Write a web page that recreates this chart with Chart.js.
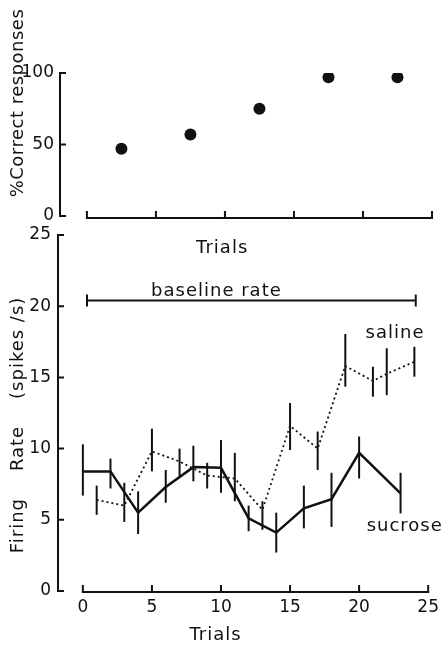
<!DOCTYPE html>
<html>
<head>
<meta charset="utf-8">
<script src="https://cdn.jsdelivr.net/npm/chart.js@4.4.1/dist/chart.umd.min.js"></script>
<style>
  html, body { margin: 0; padding: 0; background: #fff; overflow: hidden; }
  #wrap { position: relative; width: 445px; height: 646px; }
  #wrap canvas { position: absolute; left: 0; top: 0; }
</style>
</head>
<body>
<div id="wrap">
  <canvas id="top-chart" width="445" height="646"></canvas>
  <canvas id="bottom-chart" width="445" height="646"></canvas>
</div>
<script>
// --- top panel: % correct per block of trials
const blockTrials = [0.5, 1.5, 2.5, 3.5, 4.5];
const correctPct = [47, 57, 75, 97, 97];
const topXTicks = [0, 1, 2, 3, 4, 5];
const topYTicks = [0, 50, 100];

// --- bottom panel: firing rate (mean with error bars)
const sucroseTrials = [0, 2, 4, 6, 8, 10, 12, 14, 16, 18, 20, 23];
const sucroseRate = [8.4, 8.4, 5.5, 7.3, 8.7, 8.65, 5.1, 4.1, 5.8, 6.45, 9.7, 6.85];
const sucroseHigh = [10.3, 9.3, 7.0, 8.5, 10.2, 10.6, 6.0, 5.5, 7.4, 8.3, 10.85, 8.3];
const sucroseLow = [6.7, 7.2, 4.0, 6.2, 7.7, 6.9, 4.2, 2.7, 4.4, 4.5, 7.9, 5.45];

const salineTrials = [1, 3, 5, 7, 9, 11, 13, 15, 17, 19, 21, 22, 24];
const salineRate = [6.4, 6.0, 9.8, 9.1, 8.1, 7.9, 5.7, 11.6, 10.0, 15.8, 14.75, 15.25, 16.1];
const salineHigh = [7.4, 7.6, 11.4, 10.0, 9.0, 9.7, 6.3, 13.2, 11.2, 18.05, 15.75, 17.05, 17.15];
const salineLow = [5.35, 4.85, 8.4, 8.0, 7.2, 6.3, 4.3, 9.9, 8.5, 14.35, 13.65, 13.75, 15.05];

const baselineTrials = [0.3, 24.1];
const baselineRate = [20.4, 20.4];
const bottomXTicks = [0, 5, 10, 15, 20, 25];
const bottomYTicks = [0, 5, 10, 15, 20, 25];

const INK = '#111';
const FONT = 'DejaVu Sans';

const pts = (xs, ys) => xs.map((x, i) => ({ x: x, y: ys[i] }));

// Axes are drawn by hand: y axis on the chart area's left edge,
// x axis starting at trial 0, ticks pointing inwards.
const handAxes = {
    id: 'handAxes',
    afterDraw(chart, args, o) {
        const { ctx } = chart;
        const x = chart.scales.x, y = chart.scales.y;
        const left = chart.chartArea.left;
        ctx.save();
        ctx.strokeStyle = INK;
        ctx.lineWidth = 2;
        ctx.lineCap = 'square';
        ctx.beginPath();
        ctx.moveTo(left, y.getPixelForValue(o.yTicks[0]));
        ctx.lineTo(left, y.getPixelForValue(o.yTicks[o.yTicks.length - 1]));
        o.yTicks.forEach(v => {
            const py = y.getPixelForValue(v);
            ctx.moveTo(left, py);
            ctx.lineTo(left + 5, py);
        });
        const ay = y.getPixelForValue(o.yTicks[0]) + o.drop;
        ctx.moveTo(x.getPixelForValue(o.xTicks[0]), ay);
        ctx.lineTo(x.getPixelForValue(o.xTicks[o.xTicks.length - 1]), ay);
        o.xTicks.forEach(v => {
            const px = x.getPixelForValue(v);
            ctx.moveTo(px, ay);
            ctx.lineTo(px, ay - 6);
        });
        ctx.stroke();
        ctx.restore();
    }
};

const errorBars = {
    id: 'errorBars',
    afterDatasetsDraw(chart) {
        const { ctx } = chart;
        const x = chart.scales.x, y = chart.scales.y;
        ctx.save();
        ctx.strokeStyle = INK;
        ctx.lineWidth = 2;
        chart.data.datasets.forEach(ds => {
            if (!ds.errLow) return;
            ds.data.forEach((p, i) => {
                const px = x.getPixelForValue(p.x);
                ctx.beginPath();
                ctx.moveTo(px, y.getPixelForValue(ds.errLow[i]));
                ctx.lineTo(px, y.getPixelForValue(ds.errHigh[i]));
                ctx.stroke();
            });
        });
        ctx.restore();
    }
};

// free text placed in data space
const textLabels = {
    id: 'textLabels',
    afterDraw(chart, args, o) {
        const { ctx } = chart;
        const x = chart.scales.x, y = chart.scales.y;
        o.items.forEach(it => {
            ctx.save();
            ctx.fillStyle = INK;
            ctx.font = `${it.size || 18}px "${FONT}"`;
            ctx.letterSpacing = (it.spacing || 0) + 'px';
            ctx.textAlign = 'center';
            ctx.textBaseline = 'middle';
            ctx.translate(x.getPixelForValue(it.x), y.getPixelForValue(it.y));
            if (it.rot) ctx.rotate(-Math.PI / 2);
            ctx.fillText(it.text, 0, 0);
            ctx.restore();
        });
    }
};

const tickFont = { family: FONT, size: 17 };
const noGrid = { display: false, drawTicks: false };

new Chart(document.getElementById('top-chart'), {
    type: 'scatter',
    data: {
        datasets: [{
            data: pts(blockTrials, correctPct),
            pointRadius: 6,
            pointHoverRadius: 6,
            backgroundColor: INK,
            borderWidth: 0
        }]
    },
    options: {
        responsive: false,
        animation: false,
        events: [],
        layout: { padding: { top: 73, right: 13, bottom: 400, left: 0 } },
        scales: {
            x: {
                type: 'linear', min: -0.39, max: 5,
                grid: noGrid, border: { display: false },
                ticks: { display: false },
                afterFit: s => { s.height = 30; }
            },
            y: {
                min: 0, max: 100,
                grid: noGrid, border: { display: false },
                afterBuildTicks: s => { s.ticks = topYTicks.map(v => ({ value: v })); },
                ticks: { color: INK, font: tickFont, padding: 6 },
                afterFit: s => { s.width = 60; }
            }
        },
        plugins: {
            legend: { display: false },
            tooltip: { enabled: false },
            handAxes: { xTicks: topXTicks, yTicks: topYTicks, drop: 2 },
            textLabels: {
                items: [
                    { text: 'Trials', x: 1.96, y: -22.4, spacing: 1 },
                    { text: '%Correct responses', x: -1.0, y: 79, rot: true, spacing: 0.5 }
                ]
            }
        }
    },
    plugins: [handAxes, textLabels]
});

new Chart(document.getElementById('bottom-chart'), {
    type: 'line',
    data: {
        datasets: [
            {
                label: 'sucrose',
                data: pts(sucroseTrials, sucroseRate),
                errLow: sucroseLow, errHigh: sucroseHigh,
                borderColor: INK, borderWidth: 2.5,
                pointRadius: 0, tension: 0
            },
            {
                label: 'saline',
                data: pts(salineTrials, salineRate),
                errLow: salineLow, errHigh: salineHigh,
                borderColor: INK, borderWidth: 1.8, borderDash: [2, 3],
                pointRadius: 0, tension: 0
            },
            {
                label: 'baseline rate',
                data: pts(baselineTrials, baselineRate),
                borderColor: INK, borderWidth: 2,
                pointStyle: 'line', rotation: 90, pointRadius: 6,
                pointBorderWidth: 2, pointBorderColor: INK
            }
        ]
    },
    options: {
        responsive: false,
        animation: false,
        events: [],
        layout: { padding: { top: 235, right: 13, bottom: 0, left: 0 } },
        scales: {
            x: {
                type: 'linear', min: -1.8, max: 25,
                grid: noGrid, border: { display: false },
                afterBuildTicks: s => { s.ticks = bottomXTicks.map(v => ({ value: v })); },
                ticks: { color: INK, font: tickFont, padding: 6, maxRotation: 0 },
                afterFit: s => { s.height = 55; }
            },
            y: {
                min: 0, max: 25,
                grid: noGrid, border: { display: false },
                afterBuildTicks: s => { s.ticks = bottomYTicks.map(v => ({ value: v })); },
                ticks: { color: INK, font: tickFont, padding: 7 },
                afterFit: s => { s.width = 58; }
            }
        },
        plugins: {
            legend: { display: false },
            tooltip: { enabled: false },
            handAxes: { xTicks: bottomXTicks, yTicks: bottomYTicks, drop: 1 },
            textLabels: {
                items: [
                    { text: 'baseline rate', x: 9.67, y: 21.07, spacing: 1 },
                    { text: 'saline', x: 22.6, y: 18.1, spacing: 1 },
                    { text: 'sucrose', x: 23.3, y: 4.56, spacing: 1 },
                    { text: 'Trials', x: 9.6, y: -3.09, spacing: 1 },
                    { text: 'Firing    Rate    (spikes /s)', x: -4.66, y: 11.66, rot: true, spacing: 1 }
                ]
            }
        }
    },
    plugins: [errorBars, handAxes, textLabels]
});
</script>
</body>
</html>
